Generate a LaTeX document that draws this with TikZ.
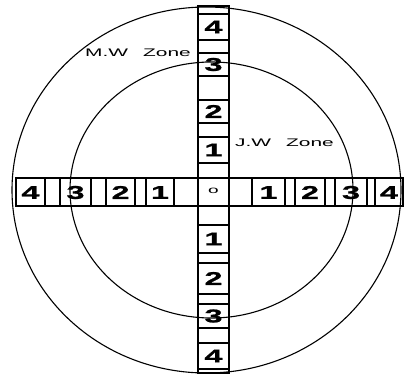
\documentclass[tikz,border=0pt]{standalone}
\usepackage{fontspec}
\setmainfont{Liberation Sans}
\newfontfamily\digitfont[FakeStretch=1.75,FakeBold=1.2]{Liberation Sans}
\newfontfamily\zonefont[FakeStretch=1.9]{Liberation Sans}
\usetikzlibrary{positioning}

\begin{document}
\begin{tikzpicture}[x=1pt,y=-1pt,
  strip/.style={draw,line width=1.2pt,fill=white},
  cellline/.style={line width=1.2pt},
  ring/.style={draw,line width=1.1pt},
  num/.style={font=\digitfont\bfseries\fontsize{18.5}{18.5}\selectfont,inner sep=0pt},
  zone/.style={font=\zonefont\fontsize{11}{11}\selectfont,inner sep=0pt}]
\useasboundingbox (0,0) rectangle (404,375);

% the two strips
\draw[strip] (16,178) rectangle (403,206);
\draw[strip] (198,6) rectangle (229,373);
\foreach \x in {45,60,91,106,135,146,174,252,285,295,325,335,367,375}
  {\draw[cellline] (\x,178) -- (\x,206);}
\foreach \y in {14,40,53,76,100,123,137,163,178,206,225,253,263,294,304,328,343,369}
  {\draw[cellline] (198,\y) -- (229,\y);}

% zones
\draw[ring] (206.5,190) ellipse [x radius=194.5, y radius=183];
\draw[ring] (211.5,190) ellipse [x radius=141.5, y radius=128];

% numbers
\foreach \x/\n [count=\i] in {30.5/4,75.5/3,120.5/2,160/1,268.5/1,310/2,351/3,389/4}
  {\node[num] (h\i) at (\x,192.5) {\n};}
\foreach \y/\n [count=\i] in {27/4,64.5/3,111.5/2,150/1,239/1,278.5/2,316/3,356/4}
  {\node[num] (v\i) at (213.5,\y) {\n};}
\node[zone,font=\zonefont\fontsize{10}{10}\selectfont] (org) at (213.5,191) {o};

\node[zone,anchor=west] (mw) at (85,53) {M.W\hspace{15pt}Zone};
\node[zone,anchor=west] (jw) at (235,143) {J.W\hspace{15pt}Zone};
\end{tikzpicture}
\end{document}
